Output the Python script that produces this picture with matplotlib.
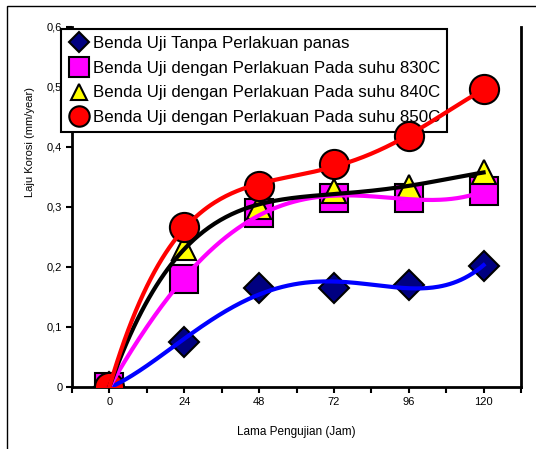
import numpy as np
import matplotlib.pyplot as plt
from matplotlib.patches import Rectangle

plt.rcParams['font.family'] = ['Liberation Sans', 'DejaVu Sans']

# data
jam = [0, 24, 48, 72, 96, 120]
tanpa = [0, 0.075, 0.165, 0.165, 0.170, 0.202]
suhu_830 = [0, 0.180, 0.290, 0.315, 0.315, 0.326]
suhu_840 = [0, 0.232, 0.300, 0.326, 0.333, 0.358]
suhu_850 = [0, 0.266, 0.335, 0.371, 0.418, 0.496]

labels = ["Benda Uji Tanpa Perlakuan panas",
          "Benda Uji dengan Perlakuan Pada suhu 830C",
          "Benda Uji dengan Perlakuan Pada suhu 840C",
          "Benda Uji dengan Perlakuan Pada suhu 850C"]
xticks = [0, 24, 48, 72, 96, 120]
yticks = [0, 0.1, 0.2, 0.3, 0.4, 0.5, 0.6]
ytick_labels = ["0", "0,1", "0,2", "0,3", "0,4", "0,5", "0,6"]

series = [tanpa, suhu_830, suhu_840, suhu_850]
markers = ["D", "s", "^", "o"]
msizes = [15, 20, 17, 21]
faces = ["#000080", "#FF00FF", "#FFFF00", "#FF0000"]
trend_colors = ["#0000FF", "#FF00FF", "#000000", "#FF0000"]

fig = plt.figure(figsize=(5.36, 4.49), dpi=100)
ax = fig.add_axes([72/536, 1-387/449, (521-72)/536, (387-27)/449])

# outer frame
fig.patches.append(Rectangle((7/536, -0.1), 1.2, 1.1 - 6/449, transform=fig.transFigure,
                             fill=False, edgecolor="black", linewidth=1.0))

handles = []
for y, m, ms, fc in zip(series, markers, msizes, faces):
    h, = ax.plot(jam, y, linestyle="none", marker=m, markersize=ms,
                 markerfacecolor=fc, markeredgecolor="black", markeredgewidth=1.5, zorder=3)
    handles.append(h)

# polynomial trend lines (like the spreadsheet trendline)
xs = np.linspace(0, 120, 200)
for y, c in zip(series, trend_colors):
    p = np.polyfit(jam, y, 4)
    ax.plot(xs, np.polyval(p, xs), color=c, linewidth=3, zorder=4)

ax.set_xlim(-12, 132)
ax.set_ylim(0, 0.6)
ax.set_xticks(np.arange(-12, 133, 12))
ax.set_xticklabels([str(v) if v in xticks else "" for v in np.arange(-12, 133, 12)])
ax.set_yticks(yticks)
ax.set_yticklabels(ytick_labels)
ax.tick_params(direction="out", length=4, width=1.5, labelsize=8, pad=3)
for s in ax.spines.values():
    s.set_linewidth(2)
ax.spines["top"].set_visible(False)

ax.set_xlabel("Lama Pengujian (Jam)", fontsize=8.5, labelpad=14)
fig.text(30/536, 1-142/449, "Laju Korosi (mm/year)", rotation=90,
         ha="center", va="center", fontsize=8)

leg = ax.legend(handles, labels, loc="upper left",
                bbox_to_anchor=(61/536, 1-29/449), bbox_transform=fig.transFigure,
                fontsize=12.2, markerscale=0.7, handlelength=1.3, handletextpad=0.2,
                borderaxespad=0, borderpad=0.4, labelspacing=0.58,
                frameon=True, fancybox=False, edgecolor="black", framealpha=1)
leg.get_frame().set_linewidth(1.5)
leg.set_zorder(2.5)

fig.savefig("out.png", dpi=100)
